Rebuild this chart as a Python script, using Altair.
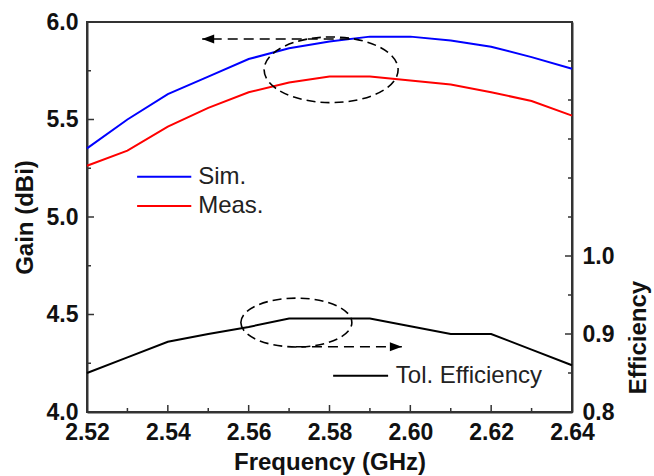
import altair as alt
import pandas as pd

# ---------------- data ----------------
freq = [2.52, 2.53, 2.54, 2.55, 2.56, 2.57, 2.58, 2.59, 2.60, 2.61, 2.62, 2.63, 2.64]
sim_gain = [5.352, 5.50, 5.63, 5.72, 5.81, 5.865, 5.90, 5.925, 5.925, 5.905, 5.873, 5.82, 5.76]
meas_gain = [5.263, 5.34, 5.463, 5.56, 5.64, 5.69, 5.72, 5.72, 5.70, 5.68, 5.64, 5.595, 5.52]
tot_eff = [0.85, 0.87, 0.89, 0.90, 0.909, 0.92, 0.92, 0.92, 0.91, 0.90, 0.90, 0.88, 0.86]

x_major = [2.52, 2.54, 2.56, 2.58, 2.60, 2.62, 2.64]
x_minor = [2.53, 2.55, 2.57, 2.59, 2.61, 2.63]
gain_major = [4.0, 4.5, 5.0, 5.5, 6.0]
gain_minor = [4.25, 4.75, 5.25, 5.75]
eff_major = [0.8, 0.9, 1.0]
eff_minor = [0.85, 0.95, 1.05, 1.1, 1.15, 1.2, 1.25]

# annotations (data coordinates)
ell1 = {"f": 2.5804, "v": 5.755}
ell2 = {"f": 2.5718, "v": 0.9147}
arrow1 = {"tail": 2.585, "head": 2.5485, "v": 5.913}
arrow2 = {"tail": 2.5717, "head": 2.5979, "v": 0.8837}
leg_gain = pd.DataFrame({"name": ["Sim.", "Meas."], "x1": [2.5324, 2.5324],
                         "x2": [2.5458, 2.5458], "tx": [2.5475, 2.5475],
                         "v": [5.207, 5.056], "c": ["#0000FF", "#FF0000"]})
leg_eff = pd.DataFrame({"name": ["Tol. Efficiency"], "x1": [2.5809], "x2": [2.5945],
                        "tx": [2.5964], "v": [0.8465]})

W, H = 485, 390
FONT = "Liberation Sans"

df = pd.DataFrame({"f": freq, "sim": sim_gain, "meas": meas_gain, "eff": tot_eff})

xs = alt.Scale(domain=[2.52, 2.64], nice=False, zero=False)
gs = alt.Scale(domain=[4.0, 6.0], nice=False, zero=False)
es = alt.Scale(domain=[0.8, 1.3], nice=False, zero=False)

x_axis = alt.Axis(values=x_major, format=".2f", tickSize=0, labelPadding=9,
                  labelFlush=False, labelOverlap=False, title="Frequency (GHz)",
                  titleX=W / 2, titleY=50, titleBaseline="middle", grid=False)
g_axis = alt.Axis(values=gain_major, format=".1f", tickSize=0, labelPadding=9,
                  labelFlush=False, labelOverlap=False, title="Gain (dBi)", orient="left",
                  titleAngle=270, titleX=-62, titleY=H / 2, titleBaseline="middle",
                  titleAlign="center", grid=False)
e_axis = alt.Axis(values=eff_major, format=".1f", tickSize=0, labelPadding=10,
                  labelFlush=False, labelOverlap=False, title="Efficiency", orient="right",
                  titleAngle=270, titleX=66, titleY=315, titleBaseline="middle",
                  titleAlign="center", grid=False)


def X(field):
    # identical axis definition on every layer so the shared x axis merges
    return alt.X(f"{field}:Q", scale=xs, axis=x_axis)


# ---------------- gain layers ----------------
sim_line = alt.Chart(df).mark_line(color="#0000FF", strokeWidth=2).encode(
    x=X("f"), y=alt.Y("sim:Q", scale=gs, axis=g_axis))
meas_line = alt.Chart(df).mark_line(color="#FF0000", strokeWidth=2).encode(
    x=X("f"), y=alt.Y("meas:Q", scale=gs, axis=None))

gain_ticks_major = alt.Chart(pd.DataFrame({"v": gain_major})).mark_rule(
    color="#333", strokeWidth=1.5).encode(
    y=alt.Y("v:Q", scale=gs, axis=None), x=alt.value(0), x2=alt.value(7))
gain_ticks_minor = alt.Chart(pd.DataFrame({"v": gain_minor})).mark_rule(
    color="#333", strokeWidth=1.5).encode(
    y=alt.Y("v:Q", scale=gs, axis=None), x=alt.value(0), x2=alt.value(4))

xt_major = alt.Chart(pd.DataFrame({"f": x_major})).mark_rule(
    color="#333", strokeWidth=1.5).encode(
    x=X("f"), y=alt.value(H), y2=alt.value(H - 7))
xt_minor = alt.Chart(pd.DataFrame({"f": x_minor})).mark_rule(
    color="#333", strokeWidth=1.5).encode(
    x=X("f"), y=alt.value(H), y2=alt.value(H - 4))

ell1_mark = alt.Chart(pd.DataFrame([ell1])).mark_point(
    shape="M -1 0 A 1 0.49 0 1 0 1 0 A 1 0.49 0 1 0 -1 0 Z", size=134 ** 2,
    filled=False, stroke="black", strokeWidth=1.6, strokeDash=[9, 5], opacity=1).encode(
    x=X("f"), y=alt.Y("v:Q", scale=gs, axis=None))

a1 = pd.DataFrame([arrow1])
arrow1_line = alt.Chart(a1).mark_rule(color="black", strokeWidth=1.6, strokeDash=[10, 6]).encode(
    x=X("tail"), x2="head:Q", y=alt.Y("v:Q", scale=gs, axis=None))
arrow1_head = alt.Chart(a1).mark_point(
    shape="M 0 0 L 2 -0.75 L 2 0.75 Z", size=144, filled=True, color="black", opacity=1).encode(
    x=X("head"), y=alt.Y("v:Q", scale=gs, axis=None))

leg_g_lines = alt.Chart(leg_gain).mark_rule(strokeWidth=2).encode(
    x=X("x1"), x2="x2:Q", y=alt.Y("v:Q", scale=gs, axis=None),
    color=alt.Color("c:N", scale=None, legend=None))
leg_g_text = alt.Chart(leg_gain).mark_text(
    align="left", baseline="middle", font=FONT, fontSize=24, color="#222").encode(
    x=X("tx"), y=alt.Y("v:Q", scale=gs, axis=None), text="name:N")

# ---------------- efficiency layers ----------------
eff_line = alt.Chart(df).mark_line(color="black", strokeWidth=2).encode(
    x=X("f"), y=alt.Y("eff:Q", scale=es, axis=e_axis))
eff_ticks_major = alt.Chart(pd.DataFrame({"v": eff_major})).mark_rule(
    color="#333", strokeWidth=1.5).encode(
    y=alt.Y("v:Q", scale=es, axis=None), x=alt.value(W), x2=alt.value(W - 7))
eff_ticks_minor = alt.Chart(pd.DataFrame({"v": eff_minor})).mark_rule(
    color="#333", strokeWidth=1.5).encode(
    y=alt.Y("v:Q", scale=es, axis=None), x=alt.value(W), x2=alt.value(W - 4))

ell2_mark = alt.Chart(pd.DataFrame([ell2])).mark_point(
    shape="M -1 0 A 1 0.44 0 1 0 1 0 A 1 0.44 0 1 0 -1 0 Z", size=111 ** 2,
    filled=False, stroke="black", strokeWidth=1.6, strokeDash=[9, 5], opacity=1).encode(
    x=X("f"), y=alt.Y("v:Q", scale=es, axis=None))

a2 = pd.DataFrame([arrow2])
arrow2_line = alt.Chart(a2).mark_rule(color="black", strokeWidth=1.6, strokeDash=[10, 6]).encode(
    x=X("tail"), x2="head:Q", y=alt.Y("v:Q", scale=es, axis=None))
arrow2_head = alt.Chart(a2).mark_point(
    shape="M 0 0 L -2 -0.75 L -2 0.75 Z", size=144, filled=True, color="black", opacity=1).encode(
    x=X("head"), y=alt.Y("v:Q", scale=es, axis=None))

leg_e_line = alt.Chart(leg_eff).mark_rule(strokeWidth=2, color="black").encode(
    x=X("x1"), x2="x2:Q", y=alt.Y("v:Q", scale=es, axis=None))
leg_e_text = alt.Chart(leg_eff).mark_text(
    align="left", baseline="middle", font=FONT, fontSize=24, color="#222").encode(
    x=X("tx"), y=alt.Y("v:Q", scale=es, axis=None), text="name:N")

chart = alt.layer(
    sim_line, meas_line, eff_line,
    gain_ticks_major, gain_ticks_minor, xt_major, xt_minor,
    ell1_mark, arrow1_line, arrow1_head, leg_g_lines, leg_g_text,
    eff_ticks_major, eff_ticks_minor, ell2_mark, arrow2_line, arrow2_head,
    leg_e_line, leg_e_text,
).resolve_scale(y="independent").properties(
    width=W, height=H,
    padding={"left": 87, "top": 22, "right": 82, "bottom": 64},
    autosize=alt.AutoSizeParams(type="none"),
    background="white",
).configure_view(stroke="#333", strokeWidth=2).configure_axis(
    labelFont=FONT, labelFontSize=23, labelFontWeight="bold", labelColor="#111",
    titleFont=FONT, titleFontSize=24, titleFontWeight="bold", titleColor="#111",
    domainColor="#333", domainWidth=2,
)

chart.save("out.html", embed_options={"renderer": "svg", "actions": False})
